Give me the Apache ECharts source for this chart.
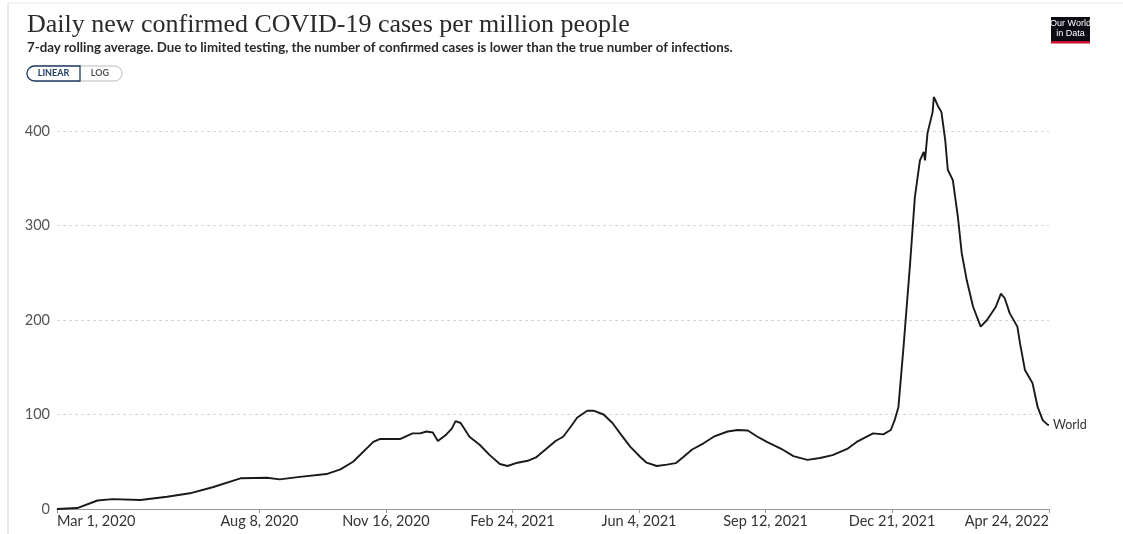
<!DOCTYPE html>
<html>
<head>
<meta charset="utf-8">
<script src="https://cdn.jsdelivr.net/npm/echarts@6/dist/echarts.min.js"></script>
<style>
html,body{margin:0;padding:0;background:#fff;}
#chart{width:1123px;height:534px;}
</style>
</head>
<body>
<div id="chart"></div>
<script>
// ---- data ----
const seriesName = 'World';
const dates = [
 '2020-03-01','2020-03-17','2020-04-02','2020-04-14','2020-05-06','2020-05-27','2020-06-14','2020-07-02','2020-07-24','2020-08-14',
 '2020-08-24','2020-09-09','2020-09-30','2020-10-11','2020-10-21','2020-11-06','2020-11-11','2020-11-27','2020-12-07','2020-12-13',
 '2020-12-18','2020-12-23','2020-12-27','2021-01-02','2021-01-07','2021-01-10','2021-01-14','2021-01-21','2021-01-29','2021-02-06',
 '2021-02-14','2021-02-20','2021-02-28','2021-03-08','2021-03-15','2021-03-23','2021-03-30','2021-04-05','2021-04-11','2021-04-16',
 '2021-04-24','2021-04-29','2021-05-07','2021-05-14','2021-05-20','2021-05-28','2021-06-05','2021-06-10','2021-06-18','2021-06-26',
 '2021-07-03','2021-07-09','2021-07-16','2021-07-25','2021-08-02','2021-08-13','2021-08-21','2021-08-29','2021-09-05','2021-09-13',
 '2021-09-24','2021-10-04','2021-10-15','2021-10-25','2021-11-04','2021-11-16','2021-11-23','2021-12-01','2021-12-06','2021-12-14',
 '2021-12-20','2021-12-23','2021-12-26','2021-12-30','2022-01-04','2022-01-08','2022-01-12','2022-01-15','2022-01-16','2022-01-18',
 '2022-01-22','2022-01-23','2022-01-26','2022-01-29','2022-02-01','2022-02-03','2022-02-07','2022-02-11','2022-02-14','2022-02-18',
 '2022-02-23','2022-03-01','2022-03-06','2022-03-13','2022-03-17','2022-03-20','2022-03-24','2022-03-30','2022-04-01','2022-04-05',
 '2022-04-11','2022-04-15','2022-04-19','2022-04-23','2022-04-24'
];
const values = [
 0,1,9,10.5,9.5,13,16.6,23,32.5,33,
 31.4,34,37,42,50,71,74,74,80,80,
 82,81,72,78,85,93,91,76.5,68,57,
 47.6,45.5,49,51,55,64,72,76.5,87,96.6,
 104,104,100,91,80,66,55,49,45.5,47,
 48.5,55,63,69.5,76.5,82,83.6,83,77,71,
 64,56,52,54,57,64,71,76.5,80,79,
 83.6,94,108,171,256,330,369,378,369,398,
 420,436,427,420,390,359,348,309,271,242,
 214,193,200,214,228,223,207,193,176,147,
 133,108,94,89,89
];
const xTickDates = ['2020-03-01','2020-08-08','2020-11-16','2021-02-24','2021-06-04','2021-09-12','2021-12-21','2022-04-24'];
const yTicks = [0,100,200,300,400];
const titleText = 'Daily new confirmed COVID-19 cases per million people';
const subtitleText = '7-day rolling average. Due to limited testing, the number of confirmed cases is lower than the true number of infections.';
const months = ['Jan','Feb','Mar','Apr','May','Jun','Jul','Aug','Sep','Oct','Nov','Dec'];

const DAY = 86400000;
function utc(s){ const p=s.split('-').map(Number); return Date.UTC(p[0],p[1]-1,p[2]); }
const origin = utc(dates[0]);
function dayIndex(s){ return Math.round((utc(s)-origin)/DAY); }
function fmt(day){ const d=new Date(origin+Math.round(day)*DAY); return months[d.getUTCMonth()]+' '+d.getUTCDate()+', '+d.getUTCFullYear(); }

const seriesData = dates.map((d,i)=>[dayIndex(d), values[i]]);
const xTicks = xTickDates.map(dayIndex);

const chart = echarts.init(document.getElementById('chart'), null, {renderer:'canvas'});
chart.setOption({
  animation:false,
  backgroundColor:'#fff',
  title:[{
    text:titleText, left:22, top:7,
    textStyle:{fontFamily:'Liberation Serif', fontSize:26, fontWeight:'normal', color:'#2a2a2a'}
  },{
    text:subtitleText, left:22, top:36,
    textStyle:{fontFamily:'Lato', fontSize:13.3, fontWeight:'bold', color:'#2a2a2a'}
  }],
  graphic:[
    {type:'line', shape:{x1:8,y1:3,x2:1123,y2:3}, style:{stroke:'#e4e4e4', lineWidth:1}},
    {type:'line', shape:{x1:8,y1:3,x2:8,y2:534}, style:{stroke:'#cfcfcf', lineWidth:1}},
    {type:'rect', shape:{x:27,y:66,width:95,height:15,r:7.5}, style:{fill:'#fff', stroke:'#bbb', lineWidth:1}},
    {type:'rect', shape:{x:27,y:66,width:53,height:15,r:[7.5,0,0,7.5]}, style:{fill:'#fff', stroke:'#1d3d63', lineWidth:1.3}},
    {type:'text', style:{text:'LINEAR', x:53.5, y:73.5, align:'center', verticalAlign:'middle', font:'bold 9px Lato', fill:'#1d3d63'}},
    {type:'text', style:{text:'LOG', x:100, y:73.5, align:'center', verticalAlign:'middle', font:'bold 9px Lato', fill:'#555'}},
    {type:'rect', shape:{x:1051,y:17,width:39,height:26}, style:{fill:'#0b0b14'}},
    {type:'rect', shape:{x:1051,y:41,width:39,height:2.5}, style:{fill:'#c8102e'}},
    {type:'text', style:{text:'Our World\nin Data', x:1070.5, y:28.5, align:'center', verticalAlign:'middle', font:'9px "Liberation Sans"', lineHeight:10, fill:'#fff'}}
  ],
  grid:{left:57, right:74, top:131, bottom:25, containLabel:false},
  xAxis:{
    type:'value',
    min:xTicks[0], max:xTicks[xTicks.length-1],
    axisLine:{show:true, lineStyle:{color:'#999', width:1}},
    axisTick:{show:true, customValues:xTicks, length:4, lineStyle:{color:'#999'}},
    axisLabel:{customValues:xTicks, formatter:(v)=>fmt(v), fontFamily:'Lato', fontSize:14.5, color:'#333', margin:5,
      alignMinLabel:'left', alignMaxLabel:'right', hideOverlap:false},
    splitLine:{show:false}
  },
  yAxis:{
    type:'value', min:yTicks[0], max:yTicks[yTicks.length-1], interval:100,
    axisLine:{show:false}, axisTick:{show:false},
    axisLabel:{fontFamily:'Lato', fontSize:14.5, color:'#555', margin:7},
    splitLine:{show:true, lineStyle:{color:'#d6d6d6', type:[3,3], width:1}}
  },
  series:[{
    name:seriesName, type:'line', data:seriesData, showSymbol:false, symbol:'none', clip:false,
    lineStyle:{color:'#1a1a1a', width:1.9},
    endLabel:{show:true, formatter:seriesName, fontFamily:'Lato', fontSize:12.5, color:'#333', distance:4},
    silent:true
  }]
});
</script>
</body>
</html>
